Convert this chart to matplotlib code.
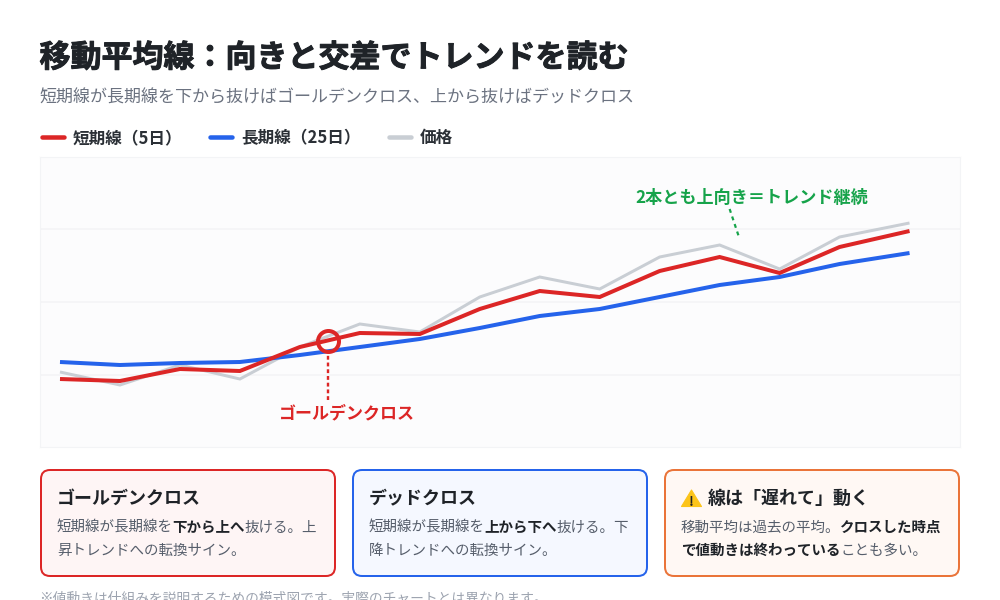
import matplotlib
matplotlib.use("Agg")
import matplotlib.pyplot as plt
import matplotlib.patheffects as pe
from matplotlib.patches import FancyBboxPatch, Polygon

plt.rcParams['font.family'] = ['Noto Sans CJK JP', 'DejaVu Sans']

# Data (x: chart position, values: height above chart floor)
days = [60, 120, 180, 240, 300, 360, 420, 480, 540, 600, 660, 720, 780, 840, 910]
short_ma = [68, 66, 78, 76, 100, 114, 113, 138, 156, 150, 176, 190, 174, 200, 216]
long_ma = [85, 82, 84, 85, 92, 100, 108, 119, 131, 138, 150, 162, 170, 183, 194]
price = [75, 62, 82, 68, 100, 123, 115, 150, 170, 158, 190, 202, 178, 210, 224]
grid_levels = [72, 145, 218]
cross_x, cross_y = 328, 106
trend_x = [730, 740]
trend_y = [238, 208]

TITLE = "移動平均線：向きと交差でトレンドを読む"
SUBTITLE = "短期線が長期線を下から抜けばゴールデンクロス、上から抜けばデッドクロス"
LEGEND = ["短期線（5日）", "長期線（25日）", "価格"]
FOOT = "※値動きは仕組みを説明するための模式図です。実際のチャートとは異なります。"

RED, BLUE, GRAY, GREEN, ORANGE = "#dc2626", "#2563eb", "#c9ced4", "#16a34a", "#ea7439"
INK, BODY, MUTED = "#1f2328", "#565e6b", "#6b7280"

fig = plt.figure(figsize=(10, 6), dpi=100, facecolor="white")
page = fig.add_axes([0, 0, 1, 1], zorder=0)
page.set_xlim(0, 1000)
page.set_ylim(600, 0)
page.axis("off")


def px(v):
    return v * 0.72


def runs(x, y, parts, size):
    """Draw consecutive (text, colour, weight) parts on one baseline."""
    r = fig.canvas.get_renderer()
    for s, c, w in parts:
        t = page.text(x, y, s, color=c, fontweight=w, fontsize=px(size), va="baseline", ha="left")
        x += t.get_window_extent(r).width - (0.8 if w == "normal" else 0)
    return x


# Header
title = page.text(39.5, 67, TITLE, fontsize=px(31), fontweight="bold", color=INK, va="baseline")
title.set_path_effects([pe.withStroke(linewidth=0.7, foreground=INK)])
page.text(39.5, 103, SUBTITLE, fontsize=px(17), color=MUTED, va="baseline")

# Legend
for (x0, label, col, tx) in [(40, LEGEND[0], RED, 73), (208, LEGEND[1], BLUE, 241), (387, LEGEND[2], GRAY, 420)]:
    page.plot([x0 + 2, x0 + 24], [137, 137], color=col, lw=px(4.5), solid_capstyle="round")
    page.text(tx, 143, label, fontsize=px(16.6), fontweight="bold", color="#2b3036", va="baseline")

# Chart
ax = fig.add_axes([40 / 1000, 1 - 447 / 600, 919.5 / 1000, 290 / 600], zorder=1)
ax.set_xlim(40, 960)
ax.set_ylim(0, 290)
ax.set_facecolor("#fcfcfd")
for s in ax.spines.values():
    s.set_color("#f3f4f6")
    s.set_linewidth(0.8)
ax.set_xticks([])
ax.set_yticks([])
for g in grid_levels:
    ax.axhline(g, color="#f3f4f6", lw=1.1, zorder=1)
ax.plot(days, price, color=GRAY, lw=px(3), solid_joinstyle="miter", solid_capstyle="butt", zorder=2)
ax.plot(days, long_ma, color=BLUE, lw=px(4), solid_joinstyle="miter", solid_capstyle="butt", zorder=3)
ax.plot(days, short_ma, color=RED, lw=px(4), solid_joinstyle="miter", solid_capstyle="butt", zorder=4)
ax.plot([cross_x, cross_x], [47, 94], color=RED, lw=px(2.4), ls=(0, (1.6, 1.2)), zorder=4)
ax.plot([cross_x], [cross_y], marker="o", ms=px(21), mfc="none", mec=RED, mew=px(4), zorder=5)
ax.text(347.5, 28.5, "ゴールデンクロス", color=RED, fontsize=px(17), fontweight="bold", ha="center", va="baseline")
ax.plot(trend_x, trend_y, color=GREEN, lw=px(2.2), ls=(0, (1.8, 1.8)), zorder=4)
ax.text(752, 244, "2本とも上向き＝トレンド継続", color=GREEN, fontsize=px(17.1), fontweight="bold", ha="center", va="baseline")

# Cards
cards = [
    (40, RED, "#fef5f5", "ゴールデンクロス",
     [[("短期線が長期線を", BODY, "normal"), ("下から上へ", INK, "bold"), ("抜ける。上", BODY, "normal")],
      [("昇トレンドへの転換サイン。", BODY, "normal")]]),
    (352, BLUE, "#f5f8ff", "デッドクロス",
     [[("短期線が長期線を", BODY, "normal"), ("上から下へ", INK, "bold"), ("抜ける。下", BODY, "normal")],
      [("降トレンドへの転換サイン。", BODY, "normal")]]),
    (664, ORANGE, "#fff8f4", "線は「遅れて」動く",
     [[("移動平均は過去の平均。", BODY, "normal"), ("クロスした時点", INK, "bold")],
      [("で値動きは終わっている", INK, "bold"), ("ことも多い。", BODY, "normal")]]),
]
for cx, edge, fill, head, lines in cards:
    page.add_patch(FancyBboxPatch((cx + 1, 470), 294, 106, boxstyle="round,pad=0,rounding_size=9",
                                  fc=fill, ec=edge, lw=px(2)))
    hx = cx + 17
    if cx == 664:
        page.add_patch(Polygon([[691.5, 490], [681.5, 506.5], [701.5, 506.5]], closed=True, fc="#fcc419", ec="#fcc419",
                               lw=0.8, joinstyle="round"))
        page.text(691.5, 505.5, "!", fontsize=px(13), fontweight="bold", color="#222222", ha="center", va="baseline")
        hx = 708
    page.text(hx, 504, head, fontsize=px(18), fontweight="bold", color=INK, va="baseline")
    for i, ln in enumerate(lines):
        runs(cx + 17, 531.5 + 23 * i, ln, 14.5)

page.text(39.5, 602, FOOT, fontsize=px(13.8), color="#9ca3af", va="baseline")

fig.savefig("out.png", dpi=100)
